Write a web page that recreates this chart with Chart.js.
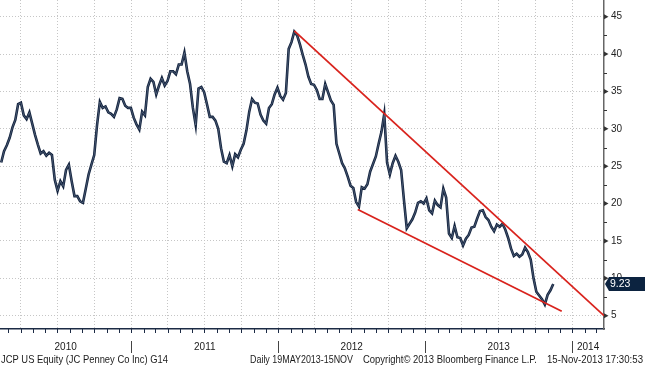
<!DOCTYPE html>
<html>
<head>
<meta charset="utf-8">
<script src="https://cdn.jsdelivr.net/npm/chart.js@4.4.0/dist/chart.umd.min.js"></script>
<style>
  html, body { margin: 0; padding: 0; background: #fff; }
  #wrap { width: 645px; height: 366px; }
</style>
</head>
<body>
<div id="wrap"><canvas id="jcpChart" width="645" height="366"></canvas></div>
<script>
// JCP weekly closes, ending on the last date below
const lastDate = '2013-11-15';
const weeklyClose = [
  25.5, 27.0, 27.8, 28.8, 30.2, 31.2, 33.3, 33.5, 31.8, 31.3,
  32.2, 30.7, 29.2, 27.9, 26.7, 27.0, 26.4, 26.8, 26.5, 23.2,
  21.7, 23.0, 22.3, 24.5, 25.2, 23.0, 21.0, 21.0, 20.3, 20.1,
  22.0, 23.9, 25.2, 26.5, 30.5, 33.6, 32.8, 33.0, 32.2, 32.0,
  31.6, 32.6, 34.1, 34.0, 33.1, 32.8, 32.8, 31.5, 30.6, 29.9,
  32.3, 31.8, 35.6, 36.7, 36.3, 34.6, 35.8, 36.8, 35.8, 36.4,
  37.7, 37.7, 37.3, 38.6, 38.6, 40.2, 37.7, 36.0, 32.8, 30.5,
  35.4, 35.6, 34.9, 33.3, 31.6, 31.6, 31.1, 30.0, 27.4, 25.6,
  25.4, 26.5, 25.0, 26.6, 26.2, 27.2, 28.0, 29.8, 32.3, 34.0,
  33.5, 33.4, 31.9, 31.1, 30.7, 32.8, 33.3, 34.6, 35.5, 34.4,
  33.9, 34.8, 40.7, 41.6, 43.0, 42.5, 41.3, 39.9, 38.6, 37.0,
  36.0, 35.9, 35.2, 34.0, 34.0, 36.0, 34.9, 33.8, 33.2, 28.0,
  26.7, 25.4, 24.7, 23.6, 22.4, 22.1, 20.2, 19.6, 22.2, 22.0,
  22.6, 24.3, 25.3, 26.3, 28.0, 29.6, 32.0, 25.5, 23.9, 25.4,
  26.4, 25.6, 24.5, 20.5, 16.7, 17.3, 17.9, 18.8, 20.1, 20.3,
  20.0, 20.7, 19.1, 18.7, 20.4, 19.8, 19.5, 22.0, 20.8, 16.0,
  15.4, 17.0, 15.5, 15.4, 14.4, 15.3, 15.8, 16.8, 16.9, 18.0,
  19.0, 19.1, 18.2, 17.8, 16.9, 16.3, 17.2, 16.9, 17.3, 16.5,
  15.4, 14.0, 13.0, 13.3, 12.9, 13.2, 14.1, 13.5, 12.5, 10.0,
  8.2, 7.7, 7.2, 6.5, 7.8, 8.4, 9.23
];
const lastPrice = 9.23;

// falling wedge drawn on the chart
const upperTrendDates = ['2012-02-10', '2014-03-21'];
const upperTrendValues = [43.1, 5.0];
const lowerTrendDates = ['2012-07-17', '2013-12-06'];
const lowerTrendValues = [19.2, 5.6];

const years = [2010, 2011, 2012, 2013, 2014];
const priceTicks = [5, 10, 15, 20, 25, 30, 35, 40, 45];
const axisStart = '2010-02-09';
const axisEnd = '2014-03-21';
const priceMin = 3.22, priceMax = 47.24;

const titleText = 'JCP US Equity (JC Penney Co Inc) G14';
const footerParts = ['Daily 19MAY2013-15NOV', 'Copyright\u00a9 2013 Bloomberg Finance L.P.', '15-Nov-2013 17:30:53'];

const FONT = "'Liberation Sans', Arial, sans-serif";
const NAVY = '#12223d';
const RED = '#d9231d';

function decYear(d) {
  const y = d.getUTCFullYear();
  const a = Date.UTC(y, 0, 1), b = Date.UTC(y + 1, 0, 1);
  return y + (d.getTime() - a) / (b - a);
}
const toYear = s => decYear(new Date(s));

const lastMs = Date.parse(lastDate);
const closeData = weeklyClose.map((v, i) => ({
  x: decYear(new Date(lastMs - (weeklyClose.length - 1 - i) * 7 * 86400000)),
  y: v
}));
const upperTrend = upperTrendDates.map((d, i) => ({ x: toYear(d), y: upperTrendValues[i] }));
const lowerTrend = lowerTrendDates.map((d, i) => ({ x: toYear(d), y: lowerTrendValues[i] }));

const xMin = toYear(axisStart), xMax = toYear(axisEnd);
const quarterTicks = [];
for (let y = 2010; y <= 2014; y++) {
  for (let q = 0; q < 4; q++) {
    const v = decYear(new Date(Date.UTC(y, q * 3, 1)));
    if (v > xMin && v < xMax) quarterTicks.push(v);
  }
}

// axis furniture, labels and footer in the Bloomberg style
const bbgExtras = {
  id: 'bbgExtras',
  afterDraw(chart) {
    const { ctx, chartArea: area, scales: { x, y } } = chart;
    ctx.save();

    // monthly ticks under the time axis
    ctx.strokeStyle = '#1c2b45';
    ctx.lineWidth = 1;
    for (let yr = 2010; yr <= 2014; yr++) {
      for (let m = 0; m < 12; m++) {
        const v = decYear(new Date(Date.UTC(yr, m, 1)));
        if (v <= xMin || v >= xMax) continue;
        const px = Math.round(x.getPixelForValue(v)) + 0.5;
        ctx.beginPath();
        ctx.moveTo(px, area.bottom);
        ctx.lineTo(px, area.bottom + 4);
        ctx.stroke();
      }
    }

    // year separators and labels centred on the visible part of each year
    ctx.fillStyle = '#1a1a1a';
    ctx.font = '10px ' + FONT;
    ctx.textAlign = 'center';
    ctx.textBaseline = 'middle';
    years.forEach(yr => {
      const a = Math.max(yr, xMin), b = Math.min(yr + 1, xMax);
      if (b <= a) return;
      const cx = (x.getPixelForValue(a) + x.getPixelForValue(b)) / 2;
      ctx.fillText(String(yr), cx, 347);
      if (yr > xMin) {
        const px = Math.round(x.getPixelForValue(yr)) + 0.5;
        ctx.strokeStyle = '#444';
        ctx.beginPath();
        ctx.moveTo(px, 341);
        ctx.lineTo(px, 353);
        ctx.stroke();
      }
    });

    // price axis: arrow ticks on the round values, small ticks between
    ctx.fillStyle = '#333';
    priceTicks.forEach(v => {
      const py = y.getPixelForValue(v);
      ctx.beginPath();
      ctx.moveTo(area.right, py - 2.5);
      ctx.lineTo(area.right + 4.5, py);
      ctx.lineTo(area.right, py + 2.5);
      ctx.closePath();
      ctx.fill();
      const mid = y.getPixelForValue(v + 2.5);
      if (v + 2.5 < priceMax) {
        ctx.strokeStyle = '#333';
        ctx.beginPath();
        ctx.moveTo(area.right, Math.round(mid) + 0.5);
        ctx.lineTo(area.right + 3, Math.round(mid) + 0.5);
        ctx.stroke();
      }
    });

    // last price tag
    const ly = y.getPixelForValue(lastPrice);
    ctx.fillStyle = '#0c2340';
    ctx.beginPath();
    ctx.moveTo(area.right + 1, ly);
    ctx.lineTo(area.right + 5, ly - 7);
    ctx.lineTo(645, ly - 7);
    ctx.lineTo(645, ly + 7);
    ctx.lineTo(area.right + 5, ly + 7);
    ctx.closePath();
    ctx.fill();
    ctx.fillStyle = '#fff';
    ctx.textAlign = 'left';
    ctx.font = '10.5px ' + FONT;
    ctx.fillText(lastPrice.toFixed(2), 610, ly + 0.5);

    // footer line
    ctx.fillStyle = '#1a1a1a';
    ctx.font = '10.5px ' + FONT;
    ctx.textBaseline = 'middle';
    ctx.fillText(titleText, 1, 360, 167);
    ctx.fillText(footerParts[0], 250, 360, 103);
    ctx.fillText(footerParts[1], 363, 360, 174);
    ctx.fillText(footerParts[2], 547, 360, 96);

    ctx.restore();
  }
};

const ctx = document.getElementById('jcpChart').getContext('2d');
const jcpChart = new Chart(ctx, {
  type: 'line',
  data: {
    datasets: [
      {
        label: 'JCP',
        data: closeData,
        borderColor: NAVY,
        borderWidth: 2.6,
        pointRadius: 0,
        tension: 0,
        order: 3
      },
      {
        label: 'JCP highlight',
        data: closeData,
        borderColor: 'rgba(150, 165, 190, 0.55)',
        borderWidth: 0.7,
        pointRadius: 0,
        tension: 0,
        order: 2
      },
      {
        label: 'Upper trend',
        data: upperTrend,
        borderColor: RED,
        borderWidth: 1.8,
        pointRadius: 0,
        order: 1
      },
      {
        label: 'Lower trend',
        data: lowerTrend,
        borderColor: RED,
        borderWidth: 1.8,
        pointRadius: 0,
        order: 1
      }
    ]
  },
  options: {
    responsive: false,
    animation: false,
    devicePixelRatio: 1,
    layout: { padding: 0, autoPadding: false },
    scales: {
      x: {
        type: 'linear',
        min: xMin,
        max: xMax,
        afterBuildTicks: s => { s.ticks = quarterTicks.map(v => ({ value: v })); },
        afterFit: s => { s.height = 37; s.paddingLeft = 0; s.paddingRight = 0; },
        ticks: { display: false },
        grid: { color: '#c6c6c6', lineWidth: 1, drawTicks: false },
        border: { display: true, color: '#1c2b45', width: 1.5, dash: [1, 2] }
      },
      y: {
        position: 'right',
        min: priceMin,
        max: priceMax,
        afterFit: s => { s.width = 41; s.paddingTop = 0; s.paddingBottom = 0; },
        afterBuildTicks: s => { s.ticks = priceTicks.map(v => ({ value: v })); },
        ticks: {
          padding: 7,
          color: '#222',
          font: { family: FONT, size: 10 }
        },
        grid: { color: '#c6c6c6', lineWidth: 1, drawTicks: false },
        border: { display: true, color: '#666', width: 1.5, dash: [1, 2] }
      }
    },
    plugins: {
      legend: { display: false },
      tooltip: { enabled: false }
    }
  },
  plugins: [bbgExtras]
});
</script>
</body>
</html>
